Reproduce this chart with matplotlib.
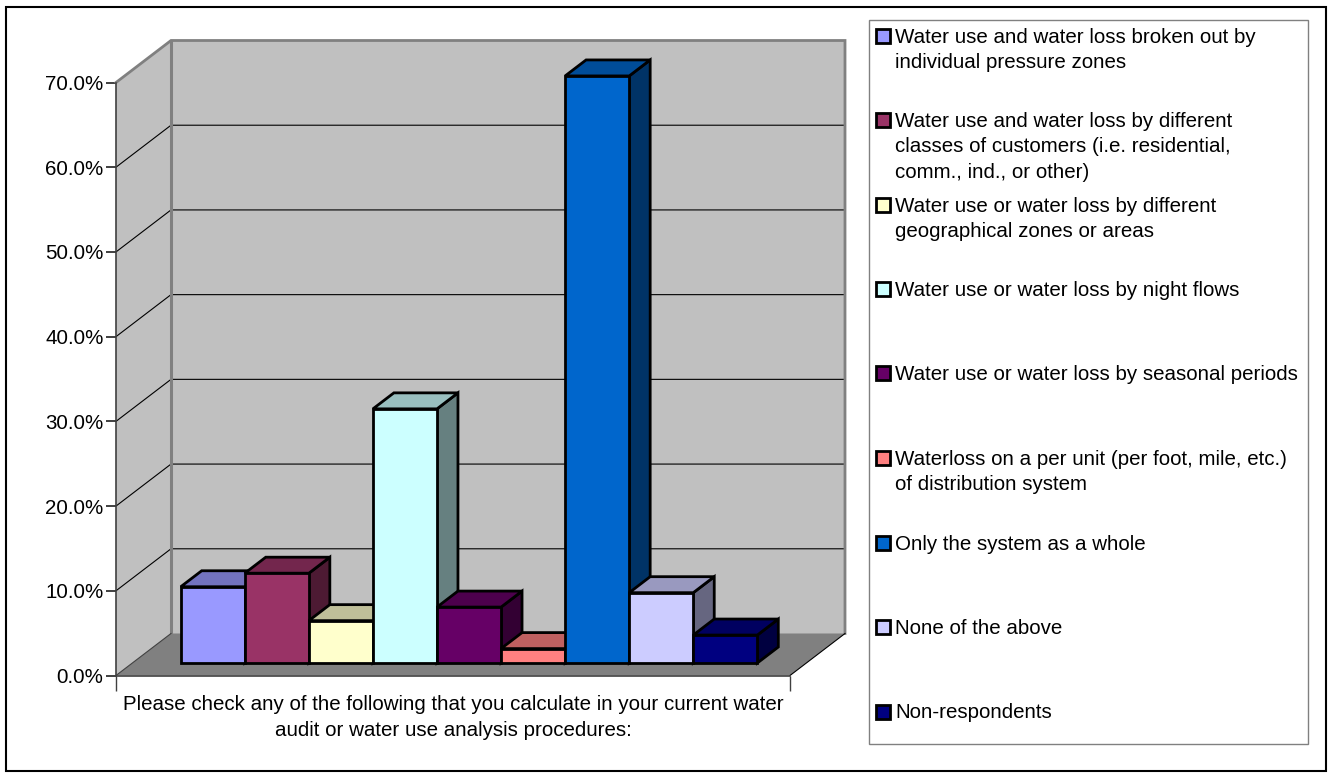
import matplotlib
matplotlib.use('Agg')
import matplotlib.pyplot as plt
from matplotlib.patches import Polygon, Rectangle
from matplotlib.colors import to_rgb

plt.rcParams['font.family'] = ['Liberation Sans', 'DejaVu Sans']

# survey answers, percent of respondents
values = [9.0, 10.6, 5.0, 30.0, 6.6, 1.7, 69.3, 8.3, 3.3]
colors = ['#9999FF', '#993366', '#FFFFCC', '#CCFFFF', '#660066',
          '#FF8080', '#0066CC', '#CCCCFF', '#000080']
y_ticks = [0, 10, 20, 30, 40, 50, 60, 70]
y_labels = ['0.0%', '10.0%', '20.0%', '30.0%', '40.0%', '50.0%', '60.0%', '70.0%']
x_title = ('Please check any of the following that you calculate in your current water\n'
           'audit or water use analysis procedures:')

legend_lines = [
    ['Water use and water loss broken out by', 'individual pressure zones'],
    ['Water use and water loss by different', 'classes of customers (i.e. residential,',
     'comm., ind., or other)'],
    ['Water use or water loss by different', 'geographical zones or areas'],
    ['Water use or water loss by night flows'],
    ['Water use or water loss by seasonal periods'],
    ['Waterloss on a per unit (per foot, mile, etc.)', 'of distribution system'],
    ['Only the system as a whole'],
    ['None of the above'],
    ['Non-respondents'],
]
legend_y = [36, 120, 205, 289, 373, 458, 543, 627, 712]

W, H = 1330, 779
FONT = 14.8
fig = plt.figure(figsize=(W / 100, H / 100), dpi=100, facecolor='white')

# overlay in pixel units for the frame and the legend
page = fig.add_axes([0, 0, 1, 1], zorder=3)
page.set_xlim(0, W)
page.set_ylim(H, 0)
page.axis('off')
page.patch.set_alpha(0)
page.add_patch(Rectangle((6, 7), 1320, 764, fc='none', ec='black', lw=1.5))
page.add_patch(Rectangle((868.5, 19.5), 439, 724, fc='white', ec='#808080', lw=1))

for i, lines in enumerate(legend_lines):
    y0 = legend_y[i]
    page.add_patch(Rectangle((876, y0 - 7), 14, 14, fc=colors[i], ec='black', lw=2))
    for j, line in enumerate(lines):
        page.text(895, y0 + 6.5 + j * 25.5, line, fontsize=FONT, va='baseline', ha='left',
                  color='black')

# front plane of the chart box, values on y and bar slots on x
ax = fig.add_axes([116 / W, 1 - 675.5 / H, 674 / W, 593 / H])
ax.set_xlim(-0.755, 9.765)
ax.set_ylim(0, 70)
ax.patch.set_alpha(0)

x0, x1 = ax.get_xlim()
top = 70

unit_x = 674 / (x1 - x0)
unit_y = 593 / 70
depth_x = 55 / unit_x
depth_y = 42 / unit_y


def proj(x, y, d):
    # d is depth into the box, 0 front to 1 back
    return (x + d * depth_x, y + d * depth_y)


# walls and floor
ax.add_patch(Polygon([proj(x0, 0, 0), proj(x0, top, 0), proj(x0, top, 1), proj(x0, 0, 1)],
                     fc='#C0C0C0', ec='none', clip_on=False, zorder=1))
ax.add_patch(Polygon([proj(x0, 0, 1), proj(x0, top, 1), proj(x1, top, 1), proj(x1, 0, 1)],
                     fc='#C0C0C0', ec='none', clip_on=False, zorder=1))
ax.add_patch(Polygon([proj(x0, 0, 0), proj(x1, 0, 0), proj(x1, 0, 1), proj(x0, 0, 1)],
                     fc='#808080', ec='none', clip_on=False, zorder=1))

# gridlines bend at the back corner
for t in y_ticks[1:-1]:
    pts = [proj(x0, t, 0), proj(x0, t, 1), proj(x1, t, 1)]
    ax.plot([p[0] for p in pts], [p[1] for p in pts], color='black', lw=0.8,
            clip_on=False, zorder=2)

# grey outline of the walls
outline = [proj(x0, top, 0), proj(x0, top, 1), proj(x1, top, 1), proj(x1, 0, 1)]
ax.plot([p[0] for p in outline], [p[1] for p in outline], color='#808080', lw=2,
        clip_on=False, zorder=2, solid_joinstyle='miter')
corner = [proj(x0, 0, 1), proj(x0, top, 1)]
ax.plot([p[0] for p in corner], [p[1] for p in corner], color='#808080', lw=2.2,
        clip_on=False, zorder=2)
floor_side = [proj(x1, 0, 0), proj(x1, 0, 1)]
ax.plot([p[0] for p in floor_side], [p[1] for p in floor_side], color='black', lw=0.8,
        clip_on=False, zorder=2)
floor_left = [proj(x0, 0, 0), proj(x0, 0, 1)]
ax.plot([p[0] for p in floor_left], [p[1] for p in floor_left], color='#404040', lw=0.8,
        clip_on=False, zorder=2)


def shade(c, k):
    return tuple(v * k for v in to_rgb(c))


# bars sit in the middle of the floor depth, later ones cover earlier ones
front, back = 12.5 / 42, 28.5 / 42
for i, v in enumerate(values):
    z = 5 + i
    style = dict(ec='black', lw=2, joinstyle='miter', clip_on=False, zorder=z)
    a, b = i, i + 1
    ax.add_patch(Polygon([proj(b, 0, front), proj(b, v, front), proj(b, v, back), proj(b, 0, back)],
                         fc=shade(colors[i], 0.5), **style))
    ax.add_patch(Polygon([proj(a, v, front), proj(b, v, front), proj(b, v, back), proj(a, v, back)],
                         fc=shade(colors[i], 0.75), **style))
    ax.add_patch(Polygon([proj(a, 0, front), proj(b, 0, front), proj(b, v, front), proj(a, v, front)],
                         fc=colors[i], **style))

ax.set_yticks(y_ticks)
ax.set_yticklabels(y_labels, fontsize=FONT)
ax.set_xticks([x0, x1])
ax.set_xticklabels(['', ''])
ax.tick_params(axis='y', length=7, width=1.2, color='#202020', pad=2)
ax.tick_params(axis='x', length=11, width=1, color='#404040')
for side in ['top', 'right']:
    ax.spines[side].set_visible(False)
for side in ['left', 'bottom']:
    ax.spines[side].set_color('#404040')
    ax.spines[side].set_linewidth(1.2)

ax.set_xlabel(x_title, fontsize=FONT, linespacing=1.47)
ax.xaxis.set_label_coords(0.5, -0.0335, transform=ax.transAxes)
ax.xaxis.label.set_va('top')

fig.savefig('out.png', dpi=100)
